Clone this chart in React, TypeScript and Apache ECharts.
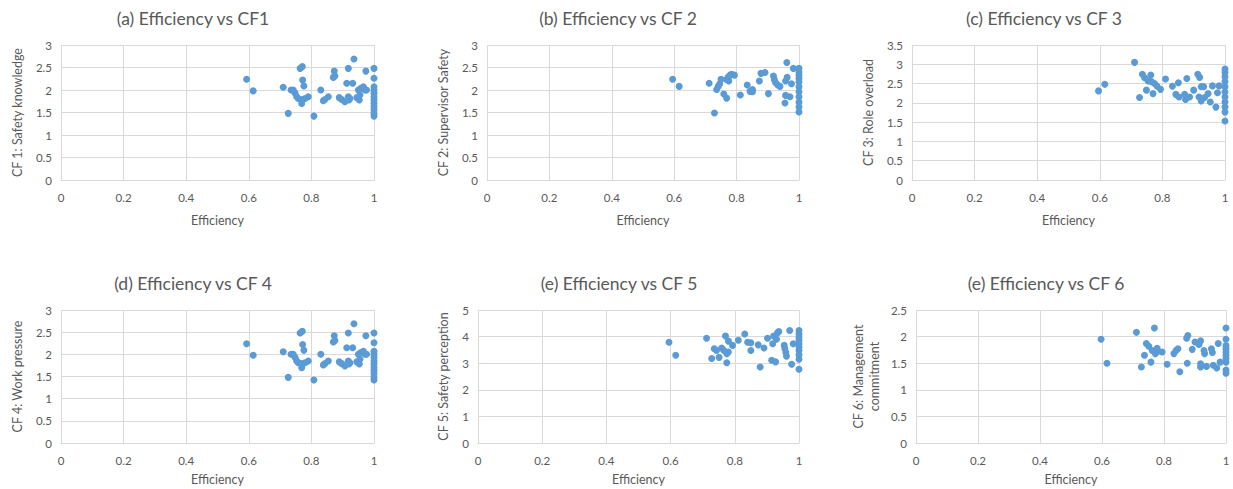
import React, { useEffect, useRef } from "react";
import * as echarts from "echarts";

// Efficiency vs CF1 (Safety knowledge)
const cf1Data: [number, number][] = [
  [0.593, 2.24], [0.614, 1.98], [0.71, 2.06], [0.726, 1.48], [0.735, 2.0], [0.742, 2.0],
  [0.748, 1.93], [0.753, 1.85], [0.758, 1.81], [0.764, 2.48], [0.771, 2.52], [0.769, 1.7],
  [0.769, 1.79], [0.772, 2.22], [0.776, 2.09], [0.78, 1.81], [0.79, 1.85], [0.808, 1.42],
  [0.83, 2.0], [0.838, 1.76], [0.843, 1.79], [0.854, 1.85], [0.873, 2.42], [0.87, 2.28],
  [0.875, 2.31], [0.889, 1.83], [0.897, 1.79], [0.907, 1.74], [0.913, 2.15], [0.918, 2.48],
  [0.918, 1.85], [0.92, 1.78], [0.923, 1.81], [0.932, 2.15], [0.936, 2.69], [0.945, 1.83],
  [0.95, 2.0], [0.953, 1.78], [0.955, 1.89], [0.958, 2.04], [0.966, 2.07], [0.971, 2.0],
  [0.974, 2.42], [0.976, 2.0], [1.0, 2.48], [1.0, 2.26], [1.0, 2.07], [1.0, 2.0], [1.0, 1.93],
  [1.0, 1.85], [1.0, 1.78], [1.0, 1.7], [1.0, 1.63], [1.0, 1.56], [1.0, 1.48], [1.0, 1.42],
];

// Efficiency vs CF2 (Supervisor Safety)
const cf2Data: [number, number][] = [
  [0.595, 2.24], [0.616, 2.08], [0.712, 2.15], [0.729, 1.49], [0.736, 2.01], [0.741, 2.08],
  [0.746, 2.14], [0.75, 2.24], [0.759, 1.91], [0.768, 1.82], [0.768, 2.23], [0.773, 2.29],
  [0.779, 2.33], [0.784, 2.35], [0.793, 2.33], [0.775, 2.2], [0.812, 1.89], [0.834, 2.11],
  [0.843, 1.97], [0.851, 1.96], [0.851, 2.01], [0.873, 2.2], [0.878, 2.37], [0.891, 2.39],
  [0.902, 1.92], [0.918, 2.31], [0.921, 2.23], [0.925, 2.16], [0.932, 2.11], [0.939, 2.08],
  [0.955, 1.71], [0.957, 1.88], [0.957, 2.2], [0.962, 2.28], [0.961, 2.61], [0.971, 1.85],
  [0.976, 2.14], [0.982, 2.48], [1.0, 2.48], [1.0, 2.4], [1.0, 2.33], [1.0, 2.26], [1.0, 2.18],
  [1.0, 2.07], [1.0, 1.96], [1.0, 1.85], [1.0, 1.73], [1.0, 1.62], [1.0, 1.51],
];

// Efficiency vs CF3 (Role overload)
const cf3Data: [number, number][] = [
  [0.596, 2.31], [0.616, 2.48], [0.711, 3.05], [0.727, 2.14], [0.736, 2.74], [0.743, 2.65],
  [0.749, 2.33], [0.754, 2.57], [0.763, 2.72], [0.765, 2.55], [0.77, 2.24], [0.775, 2.5],
  [0.783, 2.43], [0.794, 2.35], [0.81, 2.62], [0.832, 2.43], [0.843, 2.22], [0.851, 2.52],
  [0.853, 2.15], [0.871, 2.22], [0.874, 2.09], [0.878, 2.63], [0.887, 2.15], [0.9, 2.33],
  [0.913, 2.74], [0.919, 2.66], [0.917, 2.15], [0.924, 2.42], [0.924, 2.05], [0.932, 2.42],
  [0.935, 2.14], [0.946, 2.24], [0.953, 2.02], [0.96, 2.44], [0.971, 1.89], [0.976, 2.26],
  [0.981, 2.44], [1.0, 2.88], [1.0, 2.79], [1.0, 2.68], [1.0, 2.55], [1.0, 2.42], [1.0, 2.28],
  [1.0, 2.15], [1.0, 2.02], [1.0, 1.89], [1.0, 1.76], [1.0, 1.53],
];

// Efficiency vs CF4 (Work pressure)
const cf4Data: [number, number][] = [
  [0.593, 2.24], [0.614, 1.98], [0.71, 2.06], [0.726, 1.48], [0.735, 2.0], [0.742, 2.0],
  [0.748, 1.93], [0.753, 1.85], [0.758, 1.81], [0.764, 2.48], [0.771, 2.52], [0.769, 1.7],
  [0.769, 1.79], [0.772, 2.22], [0.776, 2.09], [0.78, 1.81], [0.79, 1.85], [0.808, 1.42],
  [0.83, 2.0], [0.838, 1.76], [0.843, 1.79], [0.854, 1.85], [0.873, 2.42], [0.87, 2.28],
  [0.875, 2.31], [0.889, 1.83], [0.897, 1.79], [0.907, 1.74], [0.913, 2.15], [0.918, 2.48],
  [0.918, 1.85], [0.92, 1.78], [0.923, 1.81], [0.932, 2.15], [0.936, 2.69], [0.945, 1.83],
  [0.95, 2.0], [0.953, 1.78], [0.955, 1.89], [0.958, 2.04], [0.966, 2.07], [0.971, 2.0],
  [0.974, 2.42], [0.976, 2.0], [1.0, 2.48], [1.0, 2.26], [1.0, 2.07], [1.0, 2.0], [1.0, 1.93],
  [1.0, 1.85], [1.0, 1.78], [1.0, 1.7], [1.0, 1.63], [1.0, 1.56], [1.0, 1.48], [1.0, 1.42],
];

// Efficiency vs CF5 (Safety perception)
const cf5Data: [number, number][] = [
  [0.595, 3.79], [0.616, 3.3], [0.712, 3.94], [0.728, 3.18], [0.736, 3.54], [0.743, 3.48],
  [0.751, 3.22], [0.759, 3.57], [0.766, 3.48], [0.771, 4.02], [0.775, 3.36], [0.775, 3.02],
  [0.78, 3.42], [0.78, 3.83], [0.793, 3.67], [0.811, 3.86], [0.831, 4.1], [0.84, 3.79],
  [0.85, 3.77], [0.85, 3.48], [0.873, 3.69], [0.879, 2.86], [0.891, 3.57], [0.902, 3.94],
  [0.915, 3.11], [0.918, 3.73], [0.921, 4.02], [0.927, 3.05], [0.93, 3.9], [0.933, 4.14],
  [0.937, 4.19], [0.954, 3.67], [0.956, 3.54], [0.959, 3.4], [0.961, 3.26], [0.971, 4.23],
  [0.977, 2.96], [0.982, 3.73], [1.0, 4.23], [1.0, 4.1], [1.0, 3.98], [1.0, 3.86], [1.0, 3.73],
  [1.0, 3.61], [1.0, 3.48], [1.0, 3.32], [1.0, 3.15], [1.0, 2.77],
];

// Efficiency vs CF6 (Management commitment)
const cf6Data: [number, number][] = [
  [0.597, 1.95], [0.616, 1.5], [0.711, 2.08], [0.727, 1.43], [0.737, 1.65], [0.743, 1.87],
  [0.751, 1.82], [0.758, 1.52], [0.762, 1.74], [0.769, 2.16], [0.772, 1.68], [0.778, 1.78],
  [0.78, 1.72], [0.794, 1.71], [0.81, 1.48], [0.832, 1.68], [0.839, 1.74], [0.845, 1.77],
  [0.851, 1.34], [0.873, 1.97], [0.877, 2.02], [0.875, 1.5], [0.891, 1.76], [0.9, 1.9],
  [0.913, 1.85], [0.918, 1.92], [0.918, 1.49], [0.918, 1.43], [0.929, 1.74], [0.931, 1.68],
  [0.937, 1.44], [0.953, 1.77], [0.956, 1.7], [0.959, 1.46], [0.97, 1.41], [0.975, 1.87],
  [0.981, 1.52], [1.0, 2.16], [1.0, 1.95], [1.0, 1.83], [1.0, 1.77], [1.0, 1.71], [1.0, 1.65],
  [1.0, 1.59], [1.0, 1.52], [1.0, 1.37], [1.0, 1.31],
];

const titles = [
  "(a) Efficiency vs CF1",
  "(b) Efficiency vs CF 2",
  "(c) Efficiency vs CF 3",
  "(d) Efficiency vs CF 4",
  "(e) Efficiency vs CF 5",
  "(e) Efficiency vs CF 6",
];
const yNames = [
  "CF 1: Safety knowledge",
  "CF 2: Supervisor Safety",
  "CF 3: Role overload",
  "CF 4: Work pressure",
  "CF 5: Safety perception",
  "CF 6: Management\ncommitment",
];
const xName = "Efficiency";
const yMaxes = [3, 3, 3.5, 3, 5, 2.5];
const yIntervals = [0.5, 0.5, 0.5, 0.5, 1, 0.5];
const datasets = [cf1Data, cf2Data, cf3Data, cf4Data, cf5Data, cf6Data];

// layout (pixels)
const grids = [
  { left: 61, top: 45, width: 313, height: 135 },
  { left: 487, top: 45, width: 312, height: 135 },
  { left: 912, top: 45, width: 313, height: 135 },
  { left: 61, top: 310, width: 313, height: 133 },
  { left: 478, top: 310, width: 321, height: 133 },
  { left: 916, top: 310, width: 310, height: 133 },
];
const titlePos = [
  [193, 18], [618, 18], [1044, 18],
  [193, 283], [619, 283], [1046, 283],
];
const yNameGaps = [36, 36, 36, 36, 27, 34];
const xNameGaps = [34, 34, 34, 30, 30, 30];

const FONT = "Lato, 'Liberation Sans', sans-serif";
const TEXT = "#595959";
const GRIDLINE = "#d9d9d9";
const DOT = "#5b9bd5";

export default function App() {
  const ref = useRef<HTMLDivElement>(null);
  useEffect(() => {
    document.body.style.margin = "0";
    const chart = echarts.init(ref.current!, undefined, { renderer: "svg" });
    const option: any = {
      animation: false,
      backgroundColor: "#ffffff",
      textStyle: { fontFamily: FONT },
      grid: grids.map((g) => ({ ...g, containLabel: false })),
      xAxis: grids.map((_, i) => ({
        type: "value",
        gridIndex: i,
        min: 0,
        max: 1,
        interval: 0.2,
        name: xName,
        nameLocation: "middle",
        nameGap: xNameGaps[i],
        nameTextStyle: { color: TEXT, fontSize: 12.5, fontFamily: FONT },
        axisLine: { show: true, lineStyle: { color: GRIDLINE, width: 1 } },
        axisTick: { show: false },
        axisLabel: { color: TEXT, fontSize: 11.5, margin: 11, fontFamily: FONT },
        splitLine: { show: true, lineStyle: { color: GRIDLINE, width: 1 } },
      })),
      yAxis: grids.map((_, i) => ({
        type: "value",
        gridIndex: i,
        min: 0,
        max: yMaxes[i],
        interval: yIntervals[i],
        name: yNames[i],
        nameLocation: "middle",
        nameRotate: 90,
        nameGap: yNameGaps[i],
        nameTextStyle: { color: TEXT, fontSize: 12.5, fontFamily: FONT, lineHeight: 16 },
        axisLine: { show: false },
        axisTick: { show: false },
        axisLabel: { color: TEXT, fontSize: 11.5, margin: 9, fontFamily: FONT },
        splitLine: { show: true, lineStyle: { color: GRIDLINE, width: 1 } },
      })),
      series: datasets.map((d, i) => ({
        type: "scatter",
        xAxisIndex: i,
        yAxisIndex: i,
        data: d,
        symbol: "circle",
        symbolSize: 7,
        itemStyle: { color: DOT, opacity: 1 },
      })),
      graphic: titles.map((t, i) => ({
        type: "text",
        x: titlePos[i][0],
        y: titlePos[i][1],
        style: {
          text: t,
          fill: TEXT,
          font: `17.5px ${FONT}`,
          align: "center",
          verticalAlign: "middle",
        },
      })),
    };
    chart.setOption(option);
    return () => chart.dispose();
  }, []);
  return <div ref={ref} style={{ width: 1233, height: 489 }} />;
}
